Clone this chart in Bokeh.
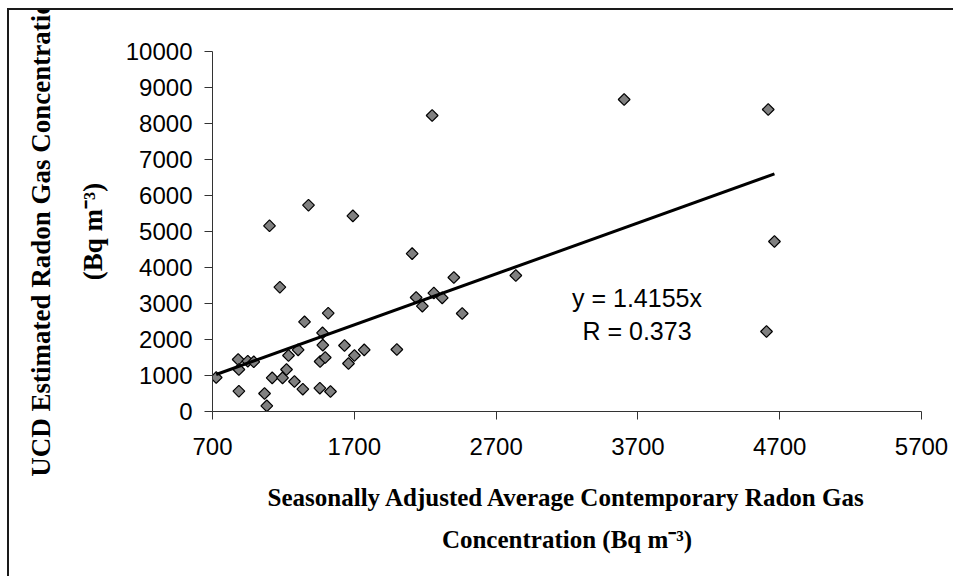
import numpy as np
from bokeh.plotting import figure
from bokeh.models import Label, Range1d, FixedTicker, ColumnDataSource, Title
from bokeh.embed import file_html
from bokeh.resources import INLINE

# ---- data ----
x_vals = [726, 881, 886, 949, 991, 886, 1102, 1067, 1083, 1121, 1175, 1194, 1222, 1236,
          1278, 1304, 1337, 1349, 1377, 1457, 1459, 1476, 1478, 1495, 1516, 1532, 1631,
          1659, 1690, 1701, 1770, 2000, 2108, 2136, 2180, 2261, 2320, 2402, 2461, 2839,
          2249, 3603, 4619, 4663, 4607]
y_vals = [944, 1444, 1167, 1398, 1380, 564, 5158, 500, 157, 935, 3453, 935, 1167, 1556,
          833, 1713, 620, 2491, 5731, 648, 1389, 2185, 1843, 1500, 2731, 556, 1833,
          1333, 5435, 1556, 1713, 1722, 4385, 3167, 2926, 3290, 3157, 3722, 2722, 3778,
          8222, 8667, 8389, 4722, 2222]
slope = 1.4155
r_value = 0.373
x_ticks = [700, 1700, 2700, 3700, 4700, 5700]
y_ticks = [0, 1000, 2000, 3000, 4000, 5000, 6000, 7000, 8000, 9000, 10000]
x_title_1 = "Seasonally Adjusted Average Contemporary Radon Gas"
x_title_2 = "Concentration (Bq m\u207b\u00b3)"
y_title_1 = "UCD Estimated Radon Gas Concentration"
y_title_2 = "(Bq m\u207b\u00b3)"

# ---- layout constants (page pixels) ----
OX, OY = 9, 10                 # canvas origin on the page
FL, FT, FW, FH = 212, 51, 709, 360
W, H = 946, 568
XMIN, XMAX, YMIN, YMAX = 700, 5700, 0, 10000

def dx(px):
    return XMIN + (px - FL) / FW * (XMAX - XMIN)

def dy(py):
    return YMIN + (FT + FH - py) / FH * (YMAX - YMIN)

p = figure(width=W, height=H, x_range=Range1d(XMIN, XMAX), y_range=Range1d(YMIN, YMAX),
           output_backend="svg", toolbar_location=None,
           min_border_left=FL - OX, min_border_top=FT - OY,
           min_border_right=W - (FL - OX) - FW, min_border_bottom=H - (FT - OY) - FH)
p.styles = {"margin-left": "7px", "margin-top": "8px",
            "border-top": "2px solid #1a1a1a", "border-left": "2px solid #1a1a1a"}
p.outline_line_color = None
p.grid.visible = False
p.background_fill_color = "white"
p.border_fill_color = "white"

for ax, ticks in ((p.xaxis, x_ticks), (p.yaxis, y_ticks)):
    ax.ticker = FixedTicker(ticks=ticks)
    ax.minor_tick_line_color = None
    ax.major_tick_in = 0
    ax.major_tick_out = 8
    ax.axis_line_color = "#333333"
    ax.major_tick_line_color = "#333333"
    ax.major_label_text_font = "Liberation Sans"
    ax.major_label_text_font_size = "24px"
    ax.major_label_text_color = "black"
p.yaxis.major_label_standoff = 12
p.xaxis.major_label_standoff = 18

src = ColumnDataSource(dict(x=x_vals, y=y_vals))
p.scatter("x", "y", source=src, marker="square", angle=np.pi / 4, size=8.3,
          fill_color="#808080", line_color="black", line_width=1.2)

xl = [min(x_vals), max(x_vals)]
p.line(xl, [slope * v for v in xl], line_color="black", line_width=3)

# equation
for yy, txt in ((297.5, f"y = {slope}x"), (330, f"R = {r_value}")):
    p.add_layout(Label(x=dx(636.5), y=dy(yy), text=txt, text_font="Liberation Sans",
                       text_font_size="25px", text_align="center", text_baseline="middle",
                       text_color="black"))

SERIF = "Liberation Serif"

def title(text, size, side, standoff):
    t = Title(text=text, align="center", text_font=SERIF, text_font_size=size,
              text_font_style="bold", text_color="black", standoff=standoff)
    p.add_layout(t, side)

title(x_title_1, "25px", "below", 49)
title(x_title_2, "25px", "below", -24)
title(y_title_2, "27px", "left", 30)
title(y_title_1, "27px", "left", 10)

open("out.html", "w").write(file_html(p, INLINE))
